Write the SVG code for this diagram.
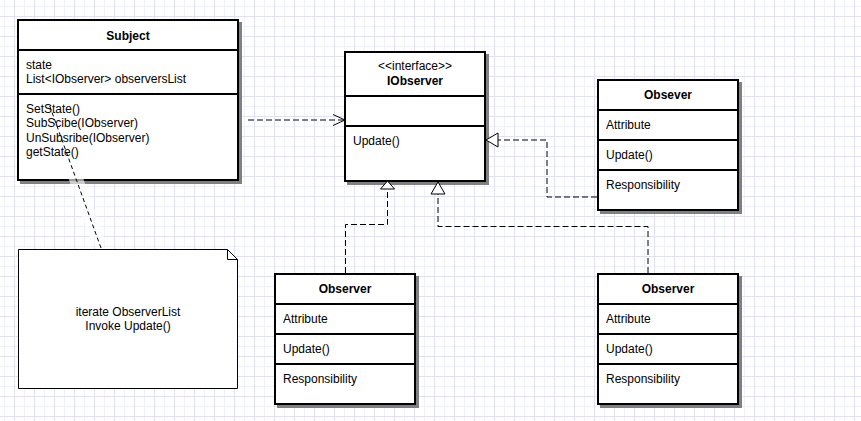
<svg xmlns="http://www.w3.org/2000/svg" width="861" height="421" viewBox="0 0 861 421">
<style>
text{font-family:"Liberation Sans",Arial,Helvetica,sans-serif;font-size:12px;fill:#000}
.b{font-weight:bold}
.c{text-anchor:middle}
.box{fill:#fff;stroke:#000;stroke-width:2}
.sep{stroke:#000;stroke-width:2}
.dash{fill:none;stroke:#000;stroke-width:1;stroke-dasharray:6 3}
.head{fill:#fff;stroke:#000;stroke-width:1}
</style>
<defs>
<pattern id="grid" patternUnits="userSpaceOnUse" x="4" y="6" width="20" height="20">
<rect width="20" height="20" fill="#fff"/>
<rect x="0" y="0" width="1" height="20" fill="#f0f0fc"/>
<rect x="0" y="0" width="20" height="1" fill="#f0f0fc"/>
<rect x="10" y="0" width="1" height="20" fill="#e0e0f8"/>
<rect x="0" y="10" width="20" height="1" fill="#e0e0f8"/>
</pattern>
<filter id="sh" x="-10%" y="-10%" width="120%" height="120%">
<feOffset in="SourceAlpha" dx="3" dy="3" result="o"/>
<feFlood flood-color="#808080" result="f"/>
<feComposite in="f" in2="o" operator="in" result="s"/>
<feMerge><feMergeNode in="s"/><feMergeNode in="SourceGraphic"/></feMerge>
</filter>
</defs>
<rect width="861" height="421" fill="url(#grid)"/>

<g id="subject">
<g filter="url(#sh)">
<rect class="box" x="18" y="20" width="220" height="160"/>
<line class="sep" x1="18" y1="50" x2="238" y2="50"/>
<line class="sep" x1="18" y1="94" x2="238" y2="94"/>
</g>
<text class="b c" x="128" y="39.5">Subject</text>
<text x="26" y="68.5">state</text>
<text x="26" y="83">List&lt;IObserver&gt; observersList</text>
<text x="26" y="112.5">SetState()</text>
<text x="26" y="127">SubScibe(IObserver)</text>
<text x="26" y="141.5">UnSubsribe(IObserver)</text>
<text x="26" y="156">getState()</text>
</g>

<g id="iobserver">
<g filter="url(#sh)">
<rect class="box" x="345" y="52" width="140" height="129"/>
<line class="sep" x1="345" y1="96" x2="485" y2="96"/>
<line class="sep" x1="345" y1="126" x2="485" y2="126"/>
</g>
<text class="c" x="415" y="70">&lt;&lt;interface&gt;&gt;</text>
<text class="b c" x="415" y="85">IObserver</text>
<text x="353" y="145">Update()</text>
</g>

<g id="obsever-right">
<g filter="url(#sh)">
<rect class="box" x="598" y="80" width="140" height="130"/>
<line class="sep" x1="598" y1="110" x2="738" y2="110"/>
<line class="sep" x1="598" y1="140" x2="738" y2="140"/>
<line class="sep" x1="598" y1="170" x2="738" y2="170"/>
</g>
<text class="b c" x="668" y="99">Obsever</text>
<text x="606" y="128.5">Attribute</text>
<text x="606" y="158.5">Update()</text>
<text x="606" y="188.5">Responsibility</text>
</g>

<g id="observer-left">
<g filter="url(#sh)">
<rect class="box" x="275" y="274" width="140" height="130"/>
<line class="sep" x1="275" y1="304" x2="415" y2="304"/>
<line class="sep" x1="275" y1="334" x2="415" y2="334"/>
<line class="sep" x1="275" y1="364" x2="415" y2="364"/>
</g>
<text class="b c" x="345" y="293">Observer</text>
<text x="283" y="322.5">Attribute</text>
<text x="283" y="352.5">Update()</text>
<text x="283" y="382.5">Responsibility</text>
</g>

<g id="observer-right">
<g filter="url(#sh)">
<rect class="box" x="598" y="274" width="140" height="130"/>
<line class="sep" x1="598" y1="304" x2="738" y2="304"/>
<line class="sep" x1="598" y1="334" x2="738" y2="334"/>
<line class="sep" x1="598" y1="364" x2="738" y2="364"/>
</g>
<text class="b c" x="668" y="293">Observer</text>
<text x="606" y="322.5">Attribute</text>
<text x="606" y="352.5">Update()</text>
<text x="606" y="382.5">Responsibility</text>
</g>

<g id="note">
<path d="M18.5 249.5 H227.5 L237.5 259.5 V388.5 H18.5 Z" fill="#fff" stroke="#000" stroke-width="1"/>
<path d="M227.5 249.5 V259.5 H237.5" fill="none" stroke="#000" stroke-width="1"/>
<text class="c" x="128" y="316">iterate ObserverList</text>
<text class="c" x="128" y="330">Invoke Update()</text>
</g>

<g id="connectors">
<path d="M98 240 L75 176" fill="none" stroke="#fff" stroke-width="14" stroke-opacity="0.6" stroke-linecap="round"/>
<path d="M101 248 L49 104" fill="none" stroke="#000" stroke-width="1" stroke-dasharray="4 3"/>
<path class="dash" d="M248 120 H344"/>
<path d="M333 114.5 L345 120 L333 125.5" fill="none" stroke="#000" stroke-width="1"/>
<path class="dash" d="M597 197 H547 V140 H498"/>
<path class="head" d="M486 140 L498 133 L498 147 Z"/>
<path class="dash" d="M345.5 273 V224.5 H387.5 V189"/>
<path class="head" d="M387.5 181 L394.5 189 L380.5 189 Z"/>
<path class="dash" d="M648 273 V226.5 H438 V194"/>
<path class="head" d="M438 182 L445 194 L431 194 Z"/>
</g>
</svg>
